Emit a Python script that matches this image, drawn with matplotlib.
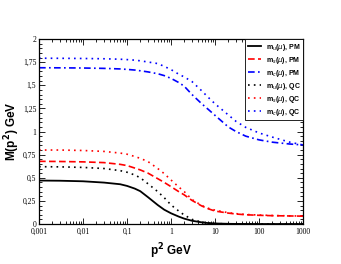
import matplotlib
matplotlib.use('Agg')
import matplotlib.pyplot as plt
from matplotlib.ticker import FixedLocator, MultipleLocator, LogLocator, NullFormatter

# momentum grid (p^2 in GeV) and mass functions
p2 = [0.001, 0.003, 0.01, 0.03, 0.07, 0.1, 0.15, 0.2, 0.3, 0.5, 0.7, 1, 1.5, 2, 3, 5, 7, 10,
      20, 30, 50, 100, 200, 500, 1000]

mu_pm = [0.47, 0.468, 0.462, 0.448, 0.43, 0.412, 0.383, 0.355, 0.29, 0.205, 0.155, 0.116, 0.08,
         0.058, 0.035, 0.018, 0.01, 0.006, 0.002, 0.001, 0.0005, 0.0, 0.0, 0.0, 0.0]
ms_pm = [0.678, 0.676, 0.672, 0.664, 0.645, 0.632, 0.605, 0.585, 0.55, 0.49, 0.45, 0.404, 0.35,
         0.315, 0.255, 0.195, 0.165, 0.14, 0.118, 0.108, 0.1, 0.094, 0.09, 0.087, 0.085]
mc_pm = [1.69, 1.689, 1.687, 1.683, 1.677, 1.672, 1.665, 1.657, 1.645, 1.625, 1.605, 1.575, 1.53,
         1.49, 1.40, 1.30, 1.24, 1.175, 1.05, 1.0, 0.95, 0.91, 0.885, 0.865, 0.855]
mu_qc = [0.62, 0.618, 0.612, 0.6, 0.577, 0.56, 0.53, 0.5, 0.435, 0.35, 0.285, 0.206, 0.14,
         0.097, 0.05, 0.02, 0.01, 0.005, 0.001, 0.0, 0.0, 0.0, 0.0, 0.0, 0.0]
ms_qc = [0.80, 0.80, 0.795, 0.785, 0.767, 0.755, 0.73, 0.71, 0.675, 0.6, 0.545, 0.476, 0.40,
         0.35, 0.265, 0.2, 0.17, 0.15, 0.122, 0.112, 0.103, 0.097, 0.092, 0.088, 0.086]
mc_qc = [1.793, 1.792, 1.79, 1.787, 1.782, 1.778, 1.772, 1.765, 1.752, 1.735, 1.705, 1.67, 1.62,
         1.59, 1.54, 1.44, 1.37, 1.30, 1.18, 1.11, 1.045, 0.985, 0.94, 0.885, 0.855]

xticks = [0.001, 0.01, 0.1, 1, 10, 100, 1000]
xlabels = ['0,001', '0,01', '0,1', '1', '10', '100', '1000']
yticks = [0, 0.25, 0.5, 0.75, 1, 1.25, 1.5, 1.75, 2]
ylabels = ['0', '0,25', '0,5', '0,75', '1', '1,25', '1,5', '1,75', '2']

fig = plt.figure(figsize=(3.41, 2.64), dpi=100)
ax = fig.add_axes([0.1144, 0.1515, 0.7742, 0.7005])

dot = (0, (1, 2.5))
ax.plot(p2, mu_pm, color='black', lw=1.3, label=r'm$_u$($\mu$), PM')
ax.plot(p2, ms_pm, color='red', lw=1.2, ls=(0, (4, 2)), label=r'm$_s$($\mu$), PM')
ax.plot(p2, mc_pm, color='blue', lw=1.2, ls=(0, (4, 2, 1, 2)), label=r'm$_c$($\mu$), PM')
ax.plot(p2, mu_qc, color='black', lw=1.2, ls=dot, label=r'm$_u$($\mu$), QC')
ax.plot(p2, ms_qc, color='red', lw=1.2, ls=dot, label=r'm$_s$($\mu$), QC')
ax.plot(p2, mc_qc, color='blue', lw=1.2, ls=dot, label=r'm$_c$($\mu$), QC')

ax.set_xscale('log')
ax.set_xlim(0.001, 1000)
ax.set_ylim(0, 2)
ax.xaxis.set_major_locator(FixedLocator(xticks))
ax.set_xticklabels(xlabels, family='Liberation Serif', fontsize=5.5)
ax.xaxis.set_minor_locator(LogLocator(base=10, subs=range(2, 10), numticks=20))
ax.xaxis.set_minor_formatter(NullFormatter())
ax.yaxis.set_major_locator(FixedLocator(yticks))
ax.set_yticklabels(ylabels, family='Liberation Serif', fontsize=5.5)
ax.yaxis.set_minor_locator(MultipleLocator(0.05))
ax.tick_params(which='both', direction='in', top=True, right=True, width=0.6, pad=2)
ax.tick_params(axis='x', which='major', pad=3)
ax.tick_params(which='major', length=4)
ax.tick_params(which='minor', length=2)
for s in ax.spines.values():
    s.set_linewidth(0.9)

ax.set_xlabel(r'p$^\mathbf{2}$ GeV', fontsize=8.5, fontweight='bold', family='Liberation Sans', labelpad=4)
ax.set_ylabel(r'M(p$^\mathbf{2}$) GeV', fontsize=8.5, fontweight='bold', family='Liberation Sans')
ax.yaxis.set_label_coords(-0.066, 0.5)

leg = ax.legend(loc='upper right', prop={'family': 'Liberation Sans', 'weight': 'bold', 'size': 5},
                fancybox=False, edgecolor='black', framealpha=1, handlelength=1.9,
                borderaxespad=0, labelspacing=0.3, handletextpad=0.7, borderpad=0.35)
leg.get_frame().set_linewidth(0.6)

fig.savefig('out.png', dpi=100)
